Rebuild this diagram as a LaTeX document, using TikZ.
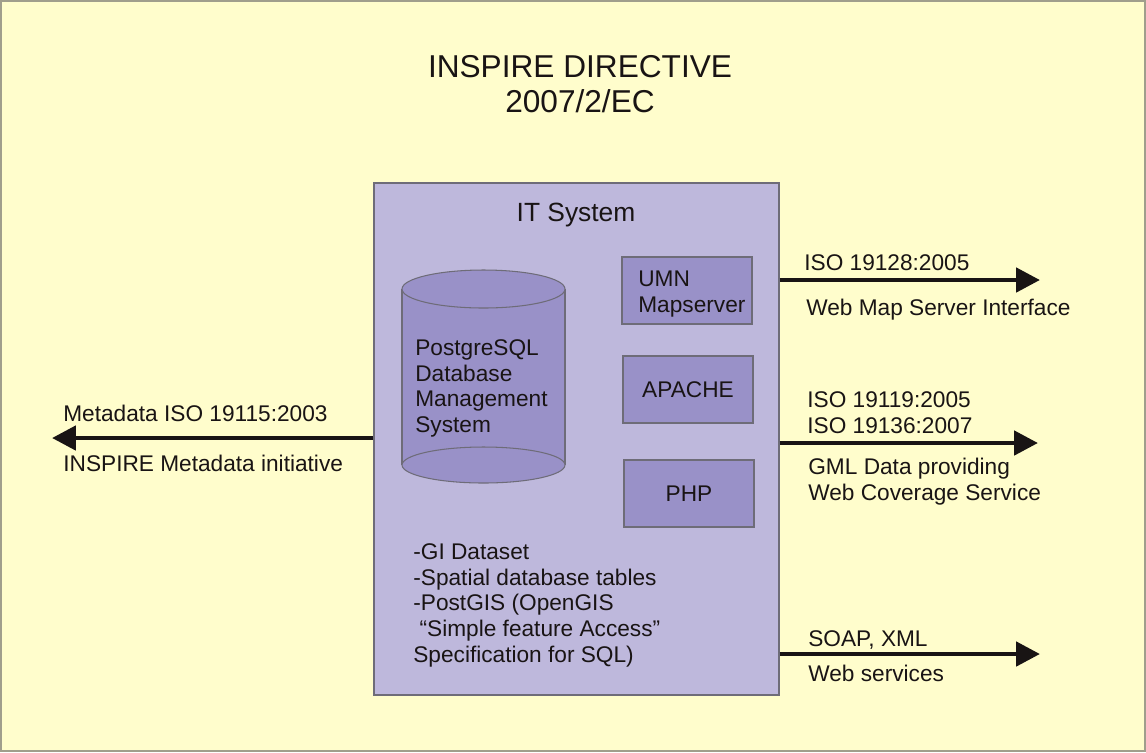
\documentclass[tikz,border=0pt]{standalone}
\usepackage{fontspec}
\setmainfont{Liberation Sans}
\usetikzlibrary{arrows.meta}
\definecolor{bgyellow}{RGB}{255,253,204}
\definecolor{frame}{RGB}{160,158,140}
\definecolor{itfill}{RGB}{190,184,220}
\definecolor{boxfill}{RGB}{153,145,200}
\definecolor{boxline}{RGB}{110,108,120}
\definecolor{ink}{RGB}{25,20,20}
\tikzset{
  body/.style={font=\fontsize{12.9}{14.7}\selectfont, text=ink, inner sep=0pt},
  lbl/.style={body, anchor=west, align=left},
  comp/.style={draw=boxline, fill=boxfill, line width=0.6pt},
  flow/.style={draw=ink, line width=2.8pt, -{Triangle[length=0.48cm,width=0.48cm]}}
}
\begin{document}
\begin{tikzpicture}[x=0.02cm,y=-0.02cm]
\useasboundingbox (0,0) rectangle (1146,752);
\fill[bgyellow] (0,0) rectangle (1146,752);
\draw[frame, line width=1.2pt] (1,1) rectangle (1145,751);

% title
\node[font=\fontsize{18}{20}\selectfont, text=ink, align=center, inner sep=0pt] (title) at (580,84) {INSPIRE DIRECTIVE\\[-0.5pt]2007/2/EC};

% IT system box
\node[draw=boxline, fill=itfill, line width=0.6pt, minimum width=405*0.02cm, minimum height=512*0.02cm, inner sep=0pt] (it) at (576.5,439) {};
\node[font=\fontsize{15}{17}\selectfont, text=ink, inner sep=0pt] (ittitle) at (576,215) {IT System};

% cylinder
\fill[boxfill] (402,289) rectangle (565,465);
\draw[boxline, line width=0.6pt] (402,289) -- (402,465) (565,289) -- (565,465);
\draw[comp] (483.5,465) ellipse[x radius=1.63cm, y radius=0.36cm];
\draw[comp] (483.5,289) ellipse[x radius=1.63cm, y radius=0.38cm];
\node[lbl, anchor=north west] (db) at (415,339) {PostgreSQL\\Database\\Management\\System};

% components
\node[comp, minimum width=130*0.02cm, minimum height=67*0.02cm, inner sep=0pt] (umn) at (687,290.5) {};
\node[lbl, anchor=north west] (umnt) at (638,271) {UMN\\Mapserver};
\node[comp, minimum width=130*0.02cm, minimum height=67*0.02cm, inner sep=0pt, body] (apache) at (688,389.5) {APACHE};
\node[comp, minimum width=130*0.02cm, minimum height=67*0.02cm, inner sep=0pt, body] (php) at (689,493.5) {PHP};

% dataset list
\node[lbl, anchor=north west] (list) at (413,543) {-GI Dataset\\-Spatial database tables\\-PostGIS (OpenGIS\\\ ``Simple feature Access''\\Specification for SQL)};

% arrows
\coordinate (lt) at (52,438);
\coordinate (r1) at (1040,280);
\coordinate (r2) at (1038,443);
\coordinate (r3) at (1040,654);
\draw[flow] (it.west |- lt) -- (lt);
\draw[flow] (it.east |- r1) -- (r1);
\draw[flow] (it.east |- r2) -- (r2);
\draw[flow] (it.east |- r3) -- (r3);

% labels
\node[lbl] (meta1) at (63,413) {Metadata ISO 19115:2003};
\node[lbl] (meta2) at (63,463) {INSPIRE Metadata initiative};
\node[lbl] (wms1) at (804,263) {ISO 19128:2005};
\node[lbl] (wms2) at (806,310) {Web Map Server Interface};
\node[lbl] (wcs1) at (807,413) {ISO 19119:2005\\ISO 19136:2007};
\node[lbl] (wcs2) at (808,482) {GML Data providing\\Web Coverage Service};
\node[lbl] (ws1) at (808,640) {SOAP, XML};
\node[lbl] (ws2) at (808,673) {Web services};
\end{tikzpicture}
\end{document}
